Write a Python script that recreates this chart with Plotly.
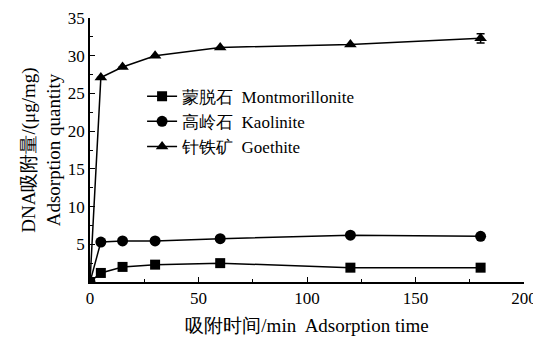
import plotly.graph_objects as go

time_min = [0, 5, 15, 30, 60, 120, 180]
montmorillonite = [0, 1.2, 2.0, 2.3, 2.5, 1.9, 1.9]
kaolinite = [0, 5.3, 5.45, 5.45, 5.75, 6.2, 6.05]
goethite = [0, 27.1, 28.5, 30.0, 31.1, 31.5, 32.3]
goethite_err = [0, 0, 0, 0, 0, 0, 0.6]

names = ["蒙脱石  Montmorillonite", "高岭石  Kaolinite", "针铁矿  Goethite"]
font_fam = "Times New Roman, Liberation Serif, DejaVu Serif, serif"

fig = go.Figure()
fig.add_trace(go.Scatter(x=time_min, y=montmorillonite, name=names[0], mode="lines+markers",
                         line=dict(color="black", width=1.5),
                         marker=dict(symbol="square", size=10, color="black")))
fig.add_trace(go.Scatter(x=time_min, y=kaolinite, name=names[1], mode="lines+markers",
                         line=dict(color="black", width=1.5),
                         marker=dict(symbol="circle", size=11, color="black")))
fig.add_trace(go.Scatter(x=time_min, y=goethite, name=names[2], mode="lines+markers",
                         line=dict(color="black", width=1.5),
                         marker=dict(symbol="triangle-up", size=11, color="black"),
                         error_y=dict(type="data", array=goethite_err, visible=True,
                                      color="black", thickness=1.5, width=4)))

fig.update_layout(
    width=533, height=331,
    margin=dict(l=82, r=17, t=10, b=57),
    paper_bgcolor="white", plot_bgcolor="white",
    font=dict(family=font_fam, size=17, color="black"),
    showlegend=True,
    legend=dict(x=0.12, y=0.77, xanchor="left", yanchor="top",
                bgcolor="rgba(0,0,0,0)", font=dict(size=17, family=font_fam),
                tracegroupgap=0, itemwidth=30),
    xaxis=dict(range=[0, 200], tickvals=[0, 50, 100, 150, 200], automargin=False,
               ticklabeloverflow="allow",
               showline=True, linecolor="black", linewidth=1.5,
               ticks="inside", ticklen=5, tickwidth=1.2, tickcolor="black",
               tickfont=dict(family=font_fam, size=17),
               minor=dict(tickvals=[25, 75, 125, 175], ticks="inside", ticklen=3, tickcolor="black"),
               showgrid=False, zeroline=False, mirror=False,
               title=dict(text="吸附时间/min  Adsorption time", standoff=12,
                          font=dict(size=19, family=font_fam))),
    yaxis=dict(range=[0, 35], tickvals=[5, 10, 15, 20, 25, 30, 35], automargin=False,
               ticklabeloverflow="allow",
               showline=True, linecolor="black", linewidth=1.5,
               ticks="inside", ticklen=5, tickwidth=1.2, tickcolor="black",
               tickfont=dict(family=font_fam, size=17),
               minor=dict(tickvals=[2.5, 7.5, 12.5, 17.5, 22.5, 27.5, 32.5], ticks="inside",
                          ticklen=3, tickcolor="black"),
               showgrid=False, zeroline=False, mirror=False,
               title=dict(text="DNA吸附量/(μg/mg)<br>Adsorption quantity", standoff=2,
                          font=dict(size=19, family=font_fam))),
)

fig.write_html("out.html")
